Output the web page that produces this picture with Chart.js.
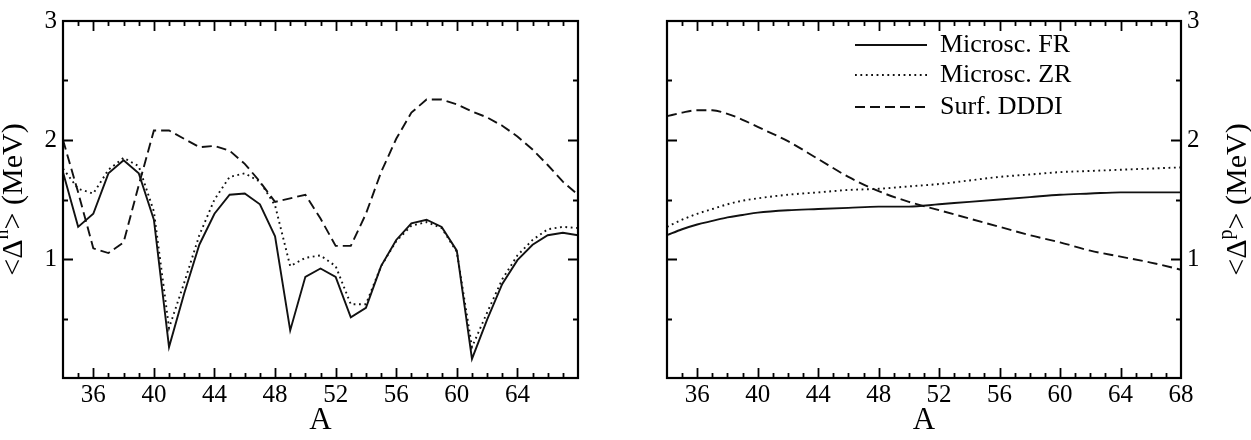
<!DOCTYPE html>
<html><head><meta charset="utf-8">
<script src="https://cdn.jsdelivr.net/npm/chart.js@4"></script>
<style>
html,body{margin:0;padding:0;background:#fff;}
#wrap{position:relative;width:1251px;height:440px;overflow:hidden;}
canvas{position:absolute;top:0;}
#c1{left:0;} #c2{left:625px;}
</style></head><body>
<div id="wrap"><canvas id="c1" width="625" height="440"></canvas><canvas id="c2" width="626" height="440"></canvas></div>
<script>
// ---- data ----
const aLeft = [34,35,36,37,38,39,40,41,42,43,44,45,46,47,48,49,50,51,52,53,54,55,56,57,58,59,60,61,62,63,64,65,66,67,68];
const nFR   = [1.73,1.27,1.38,1.72,1.83,1.72,1.33,0.26,0.71,1.12,1.38,1.54,1.55,1.46,1.19,0.40,0.85,0.92,0.85,0.51,0.59,0.94,1.16,1.30,1.33,1.27,1.07,0.16,0.49,0.79,0.99,1.12,1.20,1.22,1.20];
const nZR   = [1.76,1.59,1.55,1.75,1.85,1.78,1.40,0.42,0.80,1.20,1.50,1.69,1.72,1.65,1.45,0.94,1.01,1.03,0.94,0.62,0.62,0.94,1.15,1.28,1.31,1.26,1.06,0.26,0.55,0.83,1.03,1.16,1.25,1.27,1.26];
const nDDDI = [2.00,1.56,1.09,1.05,1.14,1.62,2.08,2.08,2.01,1.94,1.95,1.91,1.80,1.65,1.48,1.51,1.54,1.34,1.11,1.11,1.38,1.73,2.01,2.23,2.34,2.34,2.30,2.24,2.19,2.12,2.03,1.92,1.79,1.65,1.54];

const aRight = [34,35,36,37,38,39,40,42,44,46,48,50,52,54,56,58,60,62,64,66,68];
const pFR   = [1.20,1.25,1.29,1.32,1.35,1.37,1.39,1.41,1.42,1.43,1.44,1.44,1.46,1.48,1.50,1.52,1.54,1.55,1.56,1.56,1.56];
const pZR   = [1.27,1.33,1.38,1.42,1.46,1.49,1.51,1.54,1.56,1.58,1.59,1.61,1.63,1.66,1.69,1.71,1.73,1.74,1.75,1.76,1.77];
const pDDDI = [2.20,2.23,2.25,2.25,2.22,2.17,2.11,1.99,1.84,1.69,1.57,1.48,1.41,1.34,1.27,1.20,1.14,1.07,1.02,0.97,0.91];

const xTicksLeft  = [36,40,44,48,52,56,60,64];
const xTicksRight = [36,40,44,48,52,56,60,64,68];
const yTicks = [1,2,3];
const seriesNames = ['Microsc. FR','Microsc. ZR','Surf. DDDI'];

const SERIF = '"Liberation Serif","Times New Roman",serif';
const styles = [
  {borderDash:[]},
  {borderDash:[1.8,3.6]},
  {borderDash:[10,5]}
];

function mk(xs, ys, i, smooth){
  return {
    label: seriesNames[i],
    data: xs.map((x,k)=>({x:x, y:ys[k]})),
    borderColor:'#111', backgroundColor:'#111',
    borderWidth: 1.9, pointRadius:0, borderDash: styles[i].borderDash,
    tension: 0, cubicInterpolationMode: smooth ? 'monotone' : 'default',
    fill:false
  };
}

const frame = {
  id:'frame',
  afterDatasetsDraw(chart, args, opts){
    const ctx = chart.ctx, a = chart.chartArea;
    const xs = chart.scales.x, ys = chart.scales.y;
    ctx.save();
    ctx.strokeStyle = '#000';
    ctx.lineWidth = 1.8;
    ctx.beginPath();
    for (let v = 35; v <= 67; v++) {
      const px = Math.round(xs.getPixelForValue(v)) + 0.5;
      const len = (v % 4 === 0) ? 10 : 5;
      ctx.moveTo(px, a.bottom); ctx.lineTo(px, a.bottom - len);
      ctx.moveTo(px, a.top); ctx.lineTo(px, a.top + len);
    }
    for (let v = 0.5; v < 3; v += 0.5) {
      const py = Math.round(ys.getPixelForValue(v)) + 0.5;
      const len = (Math.abs(v - Math.round(v)) < 1e-6) ? 10 : 5;
      ctx.moveTo(a.left, py); ctx.lineTo(a.left + len, py);
      ctx.moveTo(a.right, py); ctx.lineTo(a.right - len, py);
    }
    ctx.stroke();
    ctx.lineWidth = 2.2;
    ctx.strokeRect(a.left, a.top, a.right - a.left, a.bottom - a.top);
    // titles
    ctx.fillStyle = '#000';
    ctx.font = '31px ' + SERIF;
    ctx.textAlign = 'center';
    ctx.textBaseline = 'middle';
    ctx.fillText('A', (a.left + a.right) / 2, 421);
    // rotated y title with superscript
    const sup = opts.sup, bx = opts.titleX;
    const cy = (a.top + a.bottom) / 2;
    const big = '30px ' + SERIF, small = '20px ' + SERIF;
    ctx.font = big; const w1 = ctx.measureText('<\u0394').width;
    const w3 = ctx.measureText('> (MeV)').width;
    ctx.font = small; const w2 = ctx.measureText(sup).width;
    const tot = w1 + w2 + w3;
    ctx.translate(bx, cy);
    ctx.rotate(-Math.PI / 2);
    ctx.textAlign = 'left';
    ctx.textBaseline = 'alphabetic';
    let x0 = -tot / 2;
    ctx.font = big; ctx.fillText('<\u0394', x0, 0); x0 += w1;
    ctx.font = small; ctx.fillText(sup, x0, -14); x0 += w2;
    ctx.font = big; ctx.fillText('> (MeV)', x0, 0);
    ctx.restore();
    // legend
    if (opts.legend) {
      const L = opts.legend;
      ctx.save();
      ctx.font = '26px ' + SERIF;
      ctx.textAlign = 'left'; ctx.textBaseline = 'middle';
      ctx.fillStyle = '#000';
      chart.data.datasets.forEach((ds, i) => {
        const y = L.rows[i];
        ctx.strokeStyle = '#111'; ctx.lineWidth = 1.9;
        ctx.setLineDash(ds.borderDash || []);
        ctx.beginPath(); ctx.moveTo(L.x0, y); ctx.lineTo(L.x1, y); ctx.stroke();
        ctx.setLineDash([]);
        ctx.fillText(ds.label, L.tx, y);
      });
      ctx.restore();
    }
  }
};

function scalesFor(xt, yPos, xFitH, yFitW){
  const tickFont = {family: SERIF, size: 25};
  return {
    x: {type:'linear', min:34, max:68, position:'bottom',
        grid:{display:false, drawTicks:false, tickLength:0}, border:{display:false},
        ticks:{font:tickFont, color:'#000', padding:2, autoSkip:false, maxRotation:0},
        afterBuildTicks: s => { s.ticks = xt.map(v => ({value:v})); },
        afterFit: s => { s.height = xFitH; }},
    y: {type:'linear', min:0, max:3, position:yPos,
        grid:{display:false, drawTicks:false, tickLength:0}, border:{display:false},
        ticks:{font:tickFont, color:'#000', padding:6},
        afterBuildTicks: s => { s.ticks = yTicks.map(v => ({value:v})); },
        afterFit: s => { s.width = yFitW; }}
  };
}

new Chart(document.getElementById('c1'), {
  type:'line',
  data:{datasets:[mk(aLeft,nFR,0,false), mk(aLeft,nZR,1,false), mk(aLeft,nDDDI,2,false)]},
  options:{
    responsive:false, animation:false, devicePixelRatio:1,
    layout:{padding:{left:0, top:17, right:47, bottom:0}},
    scales: scalesFor(xTicksLeft, 'left', 62, 63),
    plugins:{legend:{display:false}, tooltip:{enabled:false},
      frame:{sup:'n', titleX:22}}
  },
  plugins:[frame]
});

new Chart(document.getElementById('c2'), {
  type:'line',
  data:{datasets:[mk(aRight,pFR,0,true), mk(aRight,pZR,1,true), mk(aRight,pDDDI,2,true)]},
  options:{
    responsive:false, animation:false, devicePixelRatio:1,
    layout:{padding:{left:42, top:17, right:0, bottom:0}},
    scales: scalesFor(xTicksRight, 'right', 62, 70),
    plugins:{legend:{display:false}, tooltip:{enabled:false},
      frame:{sup:'p', titleX:621,
        legend:{x0:230, x1:302, tx:315, rows:[45,75,107]}}}
  },
  plugins:[frame]
});
</script>
</body></html>
